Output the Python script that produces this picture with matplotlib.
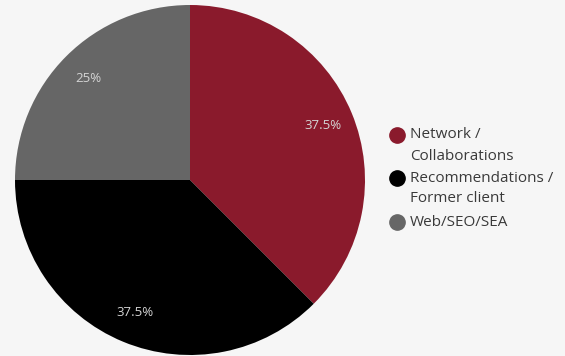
import matplotlib.pyplot as plt
from matplotlib.lines import Line2D

labels = ["Network /\nCollaborations", "Recommendations /\nFormer client", "Web/SEO/SEA"]
shares = [37.5, 37.5, 25]
colors = ["#8a1a2c", "#000000", "#666666"]

plt.rcParams["font.family"] = ["Open Sans", "DejaVu Sans"]
bg = "#f6f6f6"
W, H = 565, 356

fig = plt.figure(figsize=(W / 100, H / 100), dpi=100, facecolor=bg)
ax = fig.add_axes([15 / W, 1 / H, 350 / W, 350 / H])
ax.set_facecolor(bg)

wedges, texts, autotexts = ax.pie(
    shares,
    colors=colors,
    startangle=90,
    counterclock=False,
    autopct=lambda p: f"{p:g}%",
    pctdistance=0.82,
    radius=1.0,
    textprops=dict(color="#d4d4d4", fontsize=9.5),
)
ax.set_xlim(-1, 1)
ax.set_ylim(-1, 1)
ax.set_aspect("equal")

# legend: dot next to the first line of each label
rows_y = [135, 178, 222]
for lab, col, y in zip(labels, colors, rows_y):
    fig.add_artist(Line2D([397 / W], [1 - y / H], transform=fig.transFigure,
                          marker="o", markersize=11, linestyle="",
                          markerfacecolor=col, markeredgecolor=col))
    for i, line in enumerate(lab.split("\n")):
        fig.text(410 / W, 1 - (y + 21 * i) / H, line, fontsize=11,
                 color="#3a3a3a", va="center", ha="left")

fig.savefig("out.png", dpi=100, facecolor=bg)
